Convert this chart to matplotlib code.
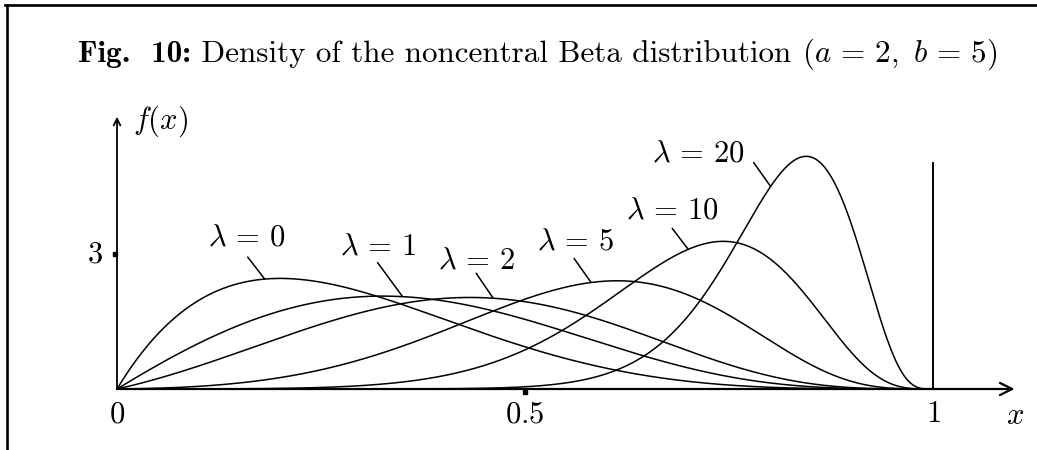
import math
import numpy as np
import matplotlib
matplotlib.use('Agg')
import matplotlib.pyplot as plt
from matplotlib.lines import Line2D
from matplotlib.transforms import ScaledTranslation

plt.rcParams['mathtext.fontset'] = 'cm'
plt.rcParams['font.family'] = 'serif'

# distribution parameters
a_par = 2
b_par = 5
lambdas = [0, 1, 2, 5, 10, 20]
labels = [r'$\lambda\,=\,0$', r'$\lambda\,=\,1$', r'$\lambda\,=\,2$',
          r'$\lambda\,=\,5$', r'$\lambda\,=\,10$', r'$\lambda\,=\,20$']

# where each label's leader touches its curve (x), leader start and text offsets in pixels
label_x = [0.181, 0.350, 0.461, 0.581, 0.700, 0.801]
leader_off = [(-17, 22), (-25, 34), (-17, 25), (-17, 24), (-16, 21), (-17, 24)]
text_off = [(-18, 42), (-25, 51), (-17, 38), (-16, 41), (-16, 39), (-72, 33)]

xticks = [0, 0.5, 1]
xtick_labels = ['$0$', '$0.5$', '$1$']
yticks = [3]
ytick_labels = ['$3$']

title_bold = 'Fig.  10:'
title_text = ' Density of the noncentral Beta distribution '
title_math = r'$(a\,=\,2,\ b\,=\,5)$'


def nc_beta_pdf(x, a, b, lam, nterms=150):
    # Poisson(lam) mixture of Beta(a + j, b) densities
    x = np.asarray(x, dtype=float)
    out = np.zeros_like(x)
    inner = (x > 0) & (x < 1)
    xi = x[inner]
    for j in range(nterms):
        if lam == 0 and j > 0:
            break
        logw = -lam + (j * math.log(lam) if lam > 0 else 0.0) - math.lgamma(j + 1)
        aj = a + j
        logb = math.lgamma(aj) + math.lgamma(b) - math.lgamma(aj + b)
        out[inner] += np.exp(logw - logb + (aj - 1) * np.log(xi) + (b - 1) * np.log1p(-xi))
    return out


W, H = 1037, 450
fig = plt.figure(figsize=(W / 100, H / 100), dpi=100)
ax = fig.add_axes([0, 0, 1, 1])
ax.set_axis_off()

# pixel layout: x=0 at 117px, x=1 at 933px, y=0 at 389px from top, 45px per unit
x0_px, x1_px, y0_px, unit_y = 117, 933, 389, 45
sx = x1_px - x0_px
ax.set_xlim(-x0_px / sx, (W - x0_px) / sx)
ax.set_ylim(-(H - y0_px) / unit_y, y0_px / unit_y)

xs = np.linspace(0, 1, 800)
for lam in lambdas:
    ax.plot(xs, nc_beta_pdf(xs, a_par, b_par, lam), color='black', lw=1.1)

fs = 22

# labels with short leader lines
for lam, lab, lx, lo, to in zip(lambdas, labels, label_x, leader_off, text_off):
    ly = float(nc_beta_pdf(np.array([lx]), a_par, b_par, lam)[0])
    ax.annotate('', xy=(lx, ly), xytext=lo, textcoords='offset pixels',
                arrowprops=dict(arrowstyle='-', lw=1.1, color='black',
                                shrinkA=0, shrinkB=0))
    ax.annotate(lab, xy=(lx, ly), xytext=to, textcoords='offset pixels',
                ha='center', va='center', fontsize=fs)

# axes with arrows
ax.annotate('', xy=(1.1, 0), xytext=(0, 0),
            arrowprops=dict(arrowstyle='->', lw=1.6, color='black',
                            mutation_scale=22, shrinkA=0, shrinkB=0))
ax.annotate('', xy=(0, 6.05), xytext=(0, 0),
            arrowprops=dict(arrowstyle='->', lw=1.3, color='black',
                            mutation_scale=12, shrinkA=0, shrinkB=0))
ax.plot([1, 1], [0, 5.02], color='black', lw=1.4)

# tick marks as small squares outside the axes
down = ax.transData + ScaledTranslation(0, -3 / 100, fig.dpi_scale_trans)
left = ax.transData + ScaledTranslation(-2.5 / 100, 0, fig.dpi_scale_trans)
ax.plot([0.5], [0], marker='s', ms=3.2, color='black', transform=down)
for yt in yticks:
    ax.plot([0], [yt], marker='s', ms=3.2, color='black', transform=left)

for xt, xl in zip(xticks, xtick_labels):
    ax.annotate(xl, xy=(xt, 0), xytext=(0, -25), textcoords='offset pixels',
                ha='center', va='center', fontsize=fs)
for yt, yl in zip(yticks, ytick_labels):
    ax.annotate(yl, xy=(0, yt), xytext=(-22, 0), textcoords='offset pixels',
                ha='center', va='center', fontsize=fs)

ax.annotate('$x$', xy=(1.1, 0), xytext=(0, -27), textcoords='offset pixels',
            ha='center', va='center', fontsize=fs)
ax.annotate('$f(x)$', xy=(0, 6.05), xytext=(44, -5), textcoords='offset pixels',
            ha='center', va='center', fontsize=fs)

# title: bold prefix, roman text, then math, placed one after another
renderer = fig.canvas.get_renderer()
tx, ty = 78 / W, 1 - 62 / H
for s, fam in [(title_bold, 'cmb10'), (title_text, 'cmr10'), (title_math, 'serif')]:
    t = fig.text(tx, ty, s, ha='left', va='baseline', fontsize=22.4, family=fam)
    bb = t.get_window_extent(renderer)
    tx = bb.x1 / W

# partial frame around the figure
fig.add_artist(Line2D([5 / W, 1], [1 - 5 / H, 1 - 5 / H], transform=fig.transFigure,
                      color='black', lw=1.9))
fig.add_artist(Line2D([7 / W, 7 / W], [0, 1 - 5 / H], transform=fig.transFigure,
                      color='black', lw=1.9))

fig.savefig('out.png', dpi=100)
